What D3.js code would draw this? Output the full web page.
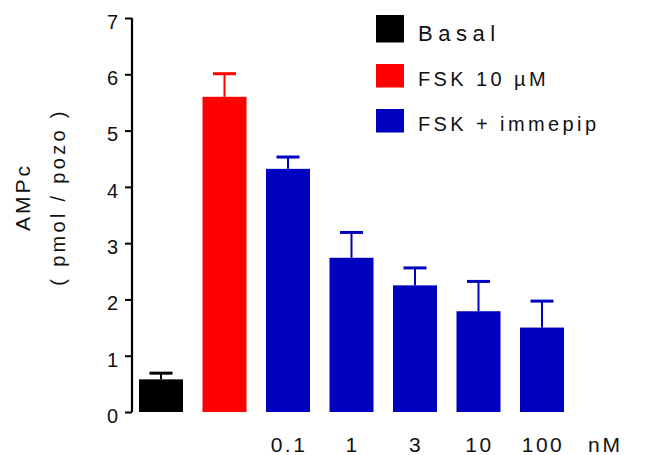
<!DOCTYPE html>
<html>
<head>
<meta charset="utf-8">
<script src="https://cdn.jsdelivr.net/npm/d3@7"></script>
<style>
  body { margin: 0; background: white; }
  text { font-family: "Liberation Sans", Arial, sans-serif; fill: #111; }
</style>
</head>
<body>
<script>
//Data
var groups = ["basal", "fsk", "c0.1", "c1", "c3", "c10", "c100"];
var groupLabels = ["", "", "0.1", "1", "3", "10", "100"];
var means = [0.58, 5.6, 4.32, 2.74, 2.25, 1.79, 1.5];
var errors = [0.11, 0.41, 0.21, 0.45, 0.31, 0.53, 0.47];
var series = ["basal", "fsk", "fsk", "fsk", "fsk", "fsk", "fsk"];
var yTicks = [0, 1, 2, 3, 4, 5, 6, 7];

var legendKeys = ["basal", "fsk", "imm"];
var legendLabels = ["Basal", "FSK 10 \u00b5M", "FSK + immepip"];

//Colours
var colors = { basal: "#000000", fsk: "#ff0000", imm: "#0000c0" };

//SVG
var w = 669;
var h = 455;

var svg = d3.select("body").append("svg")
    .attr("width", w)
    .attr("height", h);

//Scales
var y = d3.scaleLinear()
    .domain([0, 7])
    .range([412, 18]);

var x = d3.scaleBand()
    .domain(groups)
    .range([139, 564])
    .paddingInner(0.307)
    .paddingOuter(0)
    .align(0);

function barColor(i) {
    return i < 2 ? colors[series[i]] : colors.imm;
}

//Y axis
var axisX = 132;
var yAxis = svg.append("g")
    .attr("transform", "translate(" + axisX + ",0)")
    .call(d3.axisLeft(y).tickValues(yTicks).tickSize(7).tickPadding(7).tickFormat(d3.format("d")));

yAxis.select(".domain")
    .attr("d", "M0," + y(7) + "V" + y(0))
    .attr("stroke", "#000")
    .attr("stroke-width", 2.2);
yAxis.selectAll(".tick line")
    .attr("stroke", "#000")
    .attr("stroke-width", 2);
yAxis.selectAll(".tick text")
    .attr("font-size", 20)
    .attr("dy", "0.52em")
    .style("font-family", "'Liberation Sans', Arial, sans-serif")
    .attr("fill", "#111");

//Y label
var yLabel = svg.append("g")
    .attr("transform", "translate(38,197) rotate(-90)");
yLabel.append("text")
    .attr("x", 0)
    .attr("y", -8)
    .attr("text-anchor", "middle")
    .attr("font-size", 21)
    .attr("letter-spacing", 3)
    .text("AMPc");
yLabel.append("text")
    .attr("x", 0)
    .attr("y", 27)
    .attr("text-anchor", "middle")
    .attr("font-size", 20)
    .attr("letter-spacing", 3.3)
    .text("( pmol / pozo )");

//Bars
svg.selectAll(".bar")
    .data(means)
    .enter().append("rect")
    .attr("class", "bar")
    .attr("x", function (d, i) { return x(groups[i]); })
    .attr("y", function (d) { return y(d); })
    .attr("width", x.bandwidth())
    .attr("height", function (d) { return y(0) - y(d); })
    .attr("fill", function (d, i) { return barColor(i); });

//Error bars (upper only)
var capW = 23;
var err = svg.selectAll(".err")
    .data(means)
    .enter().append("g")
    .attr("class", "err");

err.append("line")
    .attr("x1", function (d, i) { return x(groups[i]) + x.bandwidth() / 2; })
    .attr("x2", function (d, i) { return x(groups[i]) + x.bandwidth() / 2; })
    .attr("y1", function (d) { return y(d); })
    .attr("y2", function (d, i) { return y(d + errors[i]); })
    .attr("stroke", function (d, i) { return barColor(i); })
    .attr("stroke-width", 2);

err.append("line")
    .attr("x1", function (d, i) { return x(groups[i]) + x.bandwidth() / 2 - capW / 2; })
    .attr("x2", function (d, i) { return x(groups[i]) + x.bandwidth() / 2 + capW / 2; })
    .attr("y1", function (d, i) { return y(d + errors[i]); })
    .attr("y2", function (d, i) { return y(d + errors[i]); })
    .attr("stroke", function (d, i) { return barColor(i); })
    .attr("stroke-width", 3);

//Category labels
svg.selectAll(".cat")
    .data(groupLabels)
    .enter().append("text")
    .attr("class", "cat")
    .attr("x", function (d, i) { return x(groups[i]) + x.bandwidth() / 2 + 1; })
    .attr("y", 452)
    .attr("text-anchor", "middle")
    .attr("font-size", 21)
    .attr("letter-spacing", 2.5)
    .text(function (d) { return d; });

svg.append("text")
    .attr("x", x(groups[6]) + x.bandwidth() / 2 + x.step())
    .attr("y", 452)
    .attr("text-anchor", "middle")
    .attr("font-size", 21)
    .attr("letter-spacing", 3)
    .text("nM");

//Legend
var rowTop = [15, 64, 109];
var legend = svg.selectAll(".legend")
    .data(legendKeys)
    .enter().append("g")
    .attr("class", "legend")
    .attr("transform", function (d, i) { return "translate(376," + rowTop[i] + ")"; });

legend.append("rect")
    .attr("width", 28)
    .attr("height", function (d, i) { return i === 0 ? 27.5 : 23.5; })
    .attr("fill", function (d) { return colors[d]; });

legend.append("text")
    .attr("x", 42)
    .attr("y", function (d, i) { return i === 0 ? 26 : 22; })
    .attr("font-size", function (d, i) { return i === 0 ? 22 : 20; })
    .attr("letter-spacing", function (d, i) { return i === 0 ? 5.5 : 3.4; })
    .text(function (d, i) { return legendLabels[i]; });
</script>
</body>
</html>
